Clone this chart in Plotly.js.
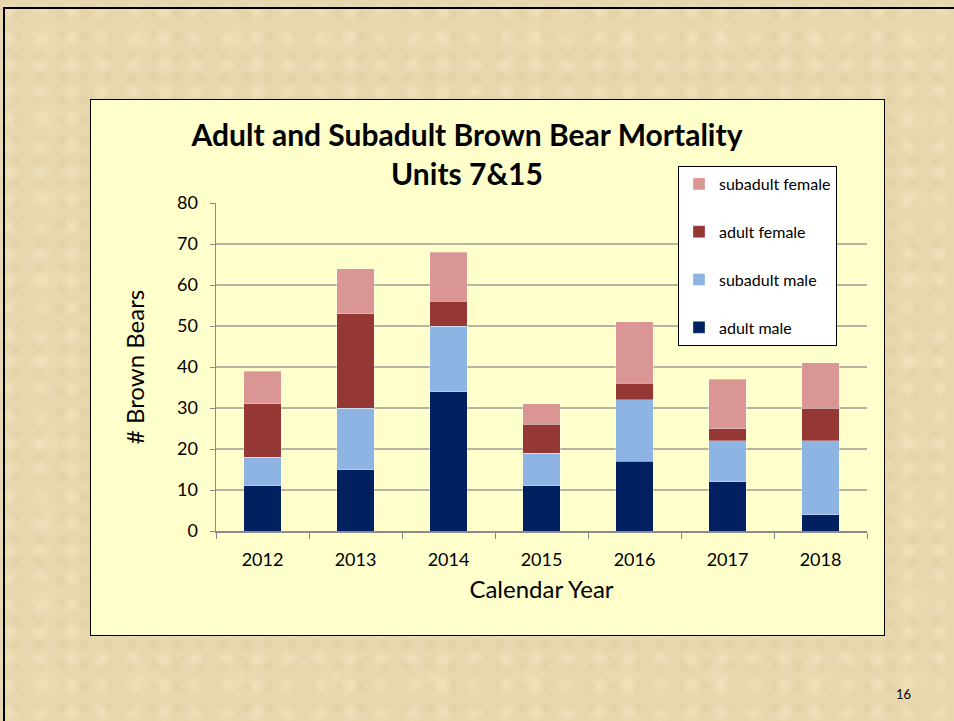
<!DOCTYPE html>
<html>
<head>
<meta charset="utf-8">
<script src="https://cdn.plot.ly/plotly-3.0.1.min.js"></script>
<style>
  html, body { margin: 0; padding: 0; }
  body {
    width: 954px; height: 721px; overflow: hidden; position: relative;
    background-color: #E8D7AE;
    background-image:
      radial-gradient(circle at 30% 40%, rgba(255,245,215,0.35) 0, rgba(255,245,215,0) 10px),
      radial-gradient(circle at 70% 70%, rgba(200,170,110,0.15) 0, rgba(200,170,110,0) 8px),
      radial-gradient(circle at 50% 50%, rgba(245,230,190,0.3) 0, rgba(245,230,190,0) 20px);
    background-size: 31px 27px, 23px 21px, 96px 80px;
  }
  #slideTop { position: absolute; left: 3px; top: 7px; width: 951px; height: 2px; background: #000; }
  #slideLeft { position: absolute; left: 3px; top: 7px; width: 2px; height: 714px; background: #000; }
  #chartBox { position: absolute; left: 90px; top: 99px; width: 793px; height: 535px;
              background: #FFFFCC; border: 1px solid #000; }
  #plot { position: absolute; left: 0; top: 0; width: 954px; height: 721px; }
</style>
</head>
<body>
<div id="slideTop"></div>
<div id="slideLeft"></div>
<div id="chartBox"></div>
<div id="plot"></div>
<script>
const years = ["2012", "2013", "2014", "2015", "2016", "2017", "2018"];
const adultMale = [11, 15, 34, 11, 17, 12, 4];
const subadultMale = [7, 15, 16, 8, 15, 10, 18];
const adultFemale = [13, 23, 6, 7, 4, 3, 8];
const subadultFemale = [8, 11, 12, 5, 15, 12, 11];
const yTicks = [0, 10, 20, 30, 40, 50, 60, 70, 80];

const font = "Lato, 'Open Sans', 'DejaVu Sans', sans-serif";

function bar(name, vals, color, grp, rank) {
  return { type: "bar", name: name, x: years, y: vals, legendgroup: grp, legendrank: rank,
           marker: { color: color, line: { width: 0.6, color: "rgba(255,255,255,0.55)" } },
           hoverinfo: "skip" };
}

const data = [
  bar("adult male", adultMale, "#002060", "a", 4),
  bar("subadult male", subadultMale, "#8EB4E3", "b", 3),
  bar("adult female", adultFemale, "#953735", "c", 2),
  bar("subadult female", subadultFemale, "#D99694", "d", 1)
];

const layout = {
  width: 954, height: 721,
  paper_bgcolor: "rgba(0,0,0,0)", plot_bgcolor: "rgba(0,0,0,0)",
  barmode: "stack", bargap: 0.6,
  margin: { l: 216, r: 87, t: 203, b: 190 },
  font: { family: font, color: "#000" },
  title: { text: "<b>Adult and Subadult Brown Bear Mortality<br>Units 7&15</b>",
           font: { family: font, size: 30, color: "#000" },
           x: 467 / 954, xanchor: "center", xref: "container",
           y: 1 - 146 / 721, yanchor: "top", yref: "container" },
  xaxis: { type: "category", tickson: "boundaries", ticks: "outside", ticklen: 6,
           tickcolor: "#8c8c8c", showline: true, linecolor: "#8c8c8c", linewidth: 1.5,
           tickfont: { size: 18 }, showgrid: false, ticklabelstandoff: 12,
           title: { text: "Calendar Year", font: { size: 24 }, standoff: 12 } },
  yaxis: { range: [0, 80], tickvals: yTicks, ticks: "outside", ticklen: 5,
           tickcolor: "#8c8c8c", showline: true, linecolor: "#8c8c8c", linewidth: 1.5,
           gridcolor: "#B5B4A3", gridwidth: 1.5, zeroline: false,
           tickfont: { size: 18 }, ticklabelstandoff: 8,
           title: { text: "# Brown Bears", font: { size: 24 }, standoff: 25 } },
  legend: { x: (678 - 216) / 651, y: (531 - 166) / 328, xanchor: "left", yanchor: "top",
            bgcolor: "#FFFFFF", bordercolor: "#000", borderwidth: 1,
            traceorder: "grouped", tracegroupgap: 24,
            font: { size: 16, family: font },
            itemwidth: 30 },
  annotations: [
    { text: "16", xref: "paper", yref: "paper", x: (903 - 216) / 651, y: (531 - 694) / 328,
      xanchor: "center", yanchor: "middle", showarrow: false, font: { size: 13, family: font } }
  ],
  showlegend: true
};

Plotly.newPlot("plot", data, layout, { staticPlot: true, displayModeBar: false });
</script>
</body>
</html>
